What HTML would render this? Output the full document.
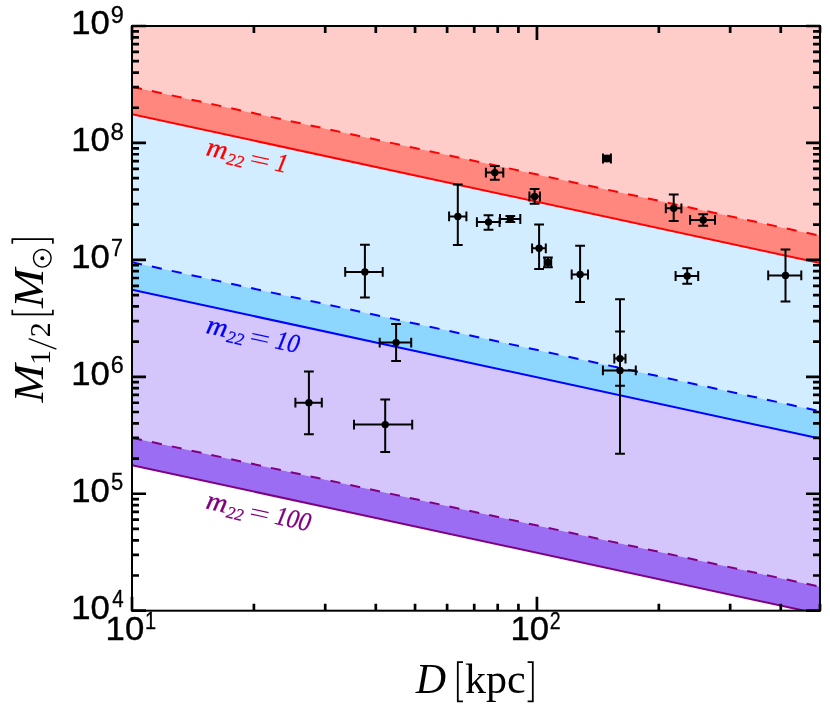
<!DOCTYPE html>
<html><head><meta charset="utf-8"><title>chart</title>
<style>html,body{margin:0;padding:0;background:#fff;}svg{display:block;will-change:transform;}text{font-family:"Liberation Sans",sans-serif;}.ser{font-family:"Liberation Serif",serif;}</style></head><body>
<svg width="830" height="715" viewBox="0 0 830 715">
<rect x="0" y="0" width="830" height="715" fill="#ffffff"/>
<defs><clipPath id="ax"><rect x="132.0" y="26.0" width="688.0" height="584.7"/></clipPath></defs>
<g clip-path="url(#ax)">
<polygon points="132.00,26.00 820.00,26.00 820.00,235.70 132.00,86.80" fill="#ffcdc9"/>
<polygon points="132.00,86.80 820.00,235.70 820.00,263.10 132.00,114.20" fill="#ff877e"/>
<polygon points="132.00,114.20 820.00,263.10 820.00,411.20 132.00,262.30" fill="#d2edff"/>
<polygon points="132.00,262.30 820.00,411.20 820.00,438.60 132.00,289.70" fill="#8dd6fd"/>
<polygon points="132.00,289.70 820.00,438.60 820.00,586.70 132.00,437.80" fill="#d4c6fa"/>
<polygon points="132.00,437.80 820.00,586.70 820.00,614.10 132.00,465.20" fill="#9b6df3"/>
<line x1="132.0" y1="114.2" x2="820.0" y2="263.1" stroke="#ff0000" stroke-width="2"/>
<line x1="132.0" y1="86.8" x2="820.0" y2="235.7" stroke="#ff0000" stroke-width="2" stroke-dasharray="10.15 10.15"/>
<line x1="132.0" y1="289.7" x2="820.0" y2="438.6" stroke="#0000ff" stroke-width="2"/>
<line x1="132.0" y1="262.3" x2="820.0" y2="411.20000000000005" stroke="#0000ff" stroke-width="2" stroke-dasharray="10.15 10.15"/>
<line x1="132.0" y1="465.2" x2="820.0" y2="614.1" stroke="#800080" stroke-width="2"/>
<line x1="132.0" y1="437.8" x2="820.0" y2="586.7" stroke="#800080" stroke-width="2" stroke-dasharray="10.15 10.15"/>
</g>
<g stroke="#000" stroke-width="2" fill="#000" clip-path="url(#ax)">
<path d="M345.2 271.9H382.7M364.9 244.7V297.6M345.2 267.0V276.79999999999995M382.7 267.0V276.79999999999995M360.0 244.7H369.79999999999995M360.0 297.6H369.79999999999995" fill="none"/>
<circle cx="364.9" cy="271.9" r="3.7" stroke="none"/>
<path d="M379.7 342.6H411.2M396.1 323.9V360.9M379.7 337.70000000000005V347.5M411.2 337.70000000000005V347.5M391.20000000000005 323.9H401.0M391.20000000000005 360.9H401.0" fill="none"/>
<circle cx="396.1" cy="342.6" r="3.7" stroke="none"/>
<path d="M295.4 402.7H321.8M308.9 371.5V434.2M295.4 397.8V407.59999999999997M321.8 397.8V407.59999999999997M304.0 371.5H313.79999999999995M304.0 434.2H313.79999999999995" fill="none"/>
<circle cx="308.9" cy="402.7" r="3.7" stroke="none"/>
<path d="M354.0 424.6H412.2M385.2 399.5V451.9M354.0 419.70000000000005V429.5M412.2 419.70000000000005V429.5M380.3 399.5H390.09999999999997M380.3 451.9H390.09999999999997" fill="none"/>
<circle cx="385.2" cy="424.6" r="3.7" stroke="none"/>
<path d="M449.1 216.4H466.4M457.8 184.5V244.9M449.1 211.5V221.3M466.4 211.5V221.3M452.90000000000003 184.5H462.7M452.90000000000003 244.9H462.7" fill="none"/>
<circle cx="457.8" cy="216.4" r="3.7" stroke="none"/>
<path d="M485.9 172.6H503.3M494.8 166.0V179.8M485.9 167.7V177.5M503.3 167.7V177.5M489.90000000000003 166.0H499.7M489.90000000000003 179.8H499.7" fill="none"/>
<circle cx="494.8" cy="172.6" r="3.7" stroke="none"/>
<path d="M476.9 222.1H499.6M488.5 215.2V229.7M476.9 217.2V227.0M499.6 217.2V227.0M483.6 215.2H493.4M483.6 229.7H493.4" fill="none"/>
<circle cx="488.5" cy="222.1" r="3.7" stroke="none"/>
<path d="M500.0 219.0H520.3M510.3 216.0V222.1M500.0 214.1V223.9M520.3 214.1V223.9M505.40000000000003 216.0H515.2M505.40000000000003 222.1H515.2" fill="none"/>
<circle cx="510.3" cy="219.0" r="3.7" stroke="none"/>
<path d="M529.4 196.5H539.9M534.6 189.1V203.8M529.4 191.6V201.4M539.9 191.6V201.4M529.7 189.1H539.5M529.7 203.8H539.5" fill="none"/>
<circle cx="534.6" cy="196.5" r="3.7" stroke="none"/>
<path d="M532.1 248.3H545.8M539.1 224.5V269.1M532.1 243.4V253.20000000000002M545.8 243.4V253.20000000000002M534.2 224.5H544.0M534.2 269.1H544.0" fill="none"/>
<circle cx="539.1" cy="248.3" r="3.7" stroke="none"/>
<path d="M544.6 262.4H551.2M547.9 257.5V267.2M544.6 257.5V267.29999999999995M551.2 257.5V267.29999999999995M543.0 257.5H552.8M543.0 267.2H552.8" fill="none"/>
<circle cx="547.9" cy="262.4" r="3.7" stroke="none"/>
<path d="M571.7 274.5H588.0M580.1 245.8V302.1M571.7 269.6V279.4M588.0 269.6V279.4M575.2 245.8H585.0M575.2 302.1H585.0" fill="none"/>
<circle cx="580.1" cy="274.5" r="3.7" stroke="none"/>
<path d="M603.0 158.5H610.9M606.9 155.8V161.3M603.0 153.6V163.4M610.9 153.6V163.4M602.0 155.8H611.8M602.0 161.3H611.8" fill="none"/>
<circle cx="606.9" cy="158.5" r="3.7" stroke="none"/>
<path d="M614.3 358.6H625.5M620.0 331.5V385.7M614.3 353.70000000000005V363.5M625.5 353.70000000000005V363.5M615.1 331.5H624.9M615.1 385.7H624.9" fill="none"/>
<circle cx="620.0" cy="358.6" r="3.7" stroke="none"/>
<path d="M602.9 370.4H635.8M620.0 299.3V453.7M602.9 365.5V375.29999999999995M635.8 365.5V375.29999999999995M615.1 299.3H624.9M615.1 453.7H624.9" fill="none"/>
<circle cx="620.0" cy="370.4" r="3.7" stroke="none"/>
<path d="M665.8 208.3H681.4M673.7 194.5V220.9M665.8 203.4V213.20000000000002M681.4 203.4V213.20000000000002M668.8000000000001 194.5H678.6M668.8000000000001 220.9H678.6" fill="none"/>
<circle cx="673.7" cy="208.3" r="3.7" stroke="none"/>
<path d="M690.1 219.9H715.0M703.2 214.3V225.7M690.1 215.0V224.8M715.0 215.0V224.8M698.3000000000001 214.3H708.1M698.3000000000001 225.7H708.1" fill="none"/>
<circle cx="703.2" cy="219.9" r="3.7" stroke="none"/>
<path d="M675.6 276.0H698.2M687.2 268.3V283.7M675.6 271.1V280.9M698.2 271.1V280.9M682.3000000000001 268.3H692.1M682.3000000000001 283.7H692.1" fill="none"/>
<circle cx="687.2" cy="276.0" r="3.7" stroke="none"/>
<path d="M768.2 275.4H801.3M785.5 249.4V301.4M768.2 270.5V280.29999999999995M801.3 270.5V280.29999999999995M780.6 249.4H790.4M780.6 301.4H790.4" fill="none"/>
<circle cx="785.5" cy="275.4" r="3.7" stroke="none"/>
</g>
<rect x="132.0" y="26.0" width="688.0" height="584.7" fill="none" stroke="#000" stroke-width="2"/>
<path d="M132.00 610.7V596.7M132.00 26.0V40.0M253.90 610.7V603.7M253.90 26.0V33.0M325.21 610.7V603.7M325.21 26.0V33.0M375.80 610.7V603.7M375.80 26.0V33.0M415.05 610.7V603.7M415.05 26.0V33.0M447.11 610.7V603.7M447.11 26.0V33.0M474.22 610.7V603.7M474.22 26.0V33.0M497.71 610.7V603.7M497.71 26.0V33.0M518.42 610.7V603.7M518.42 26.0V33.0M536.95 610.7V596.7M536.95 26.0V40.0M658.85 610.7V603.7M658.85 26.0V33.0M730.16 610.7V603.7M730.16 26.0V33.0M780.76 610.7V603.7M780.76 26.0V33.0M820.00 610.7V603.7M820.00 26.0V33.0M132.0 610.70H146.0M820.0 610.70H806.0M132.0 575.50H139.0M820.0 575.50H813.0M132.0 554.91H139.0M820.0 554.91H813.0M132.0 540.30H139.0M820.0 540.30H813.0M132.0 528.96H139.0M820.0 528.96H813.0M132.0 519.70H139.0M820.0 519.70H813.0M132.0 511.87H139.0M820.0 511.87H813.0M132.0 505.09H139.0M820.0 505.09H813.0M132.0 499.11H139.0M820.0 499.11H813.0M132.0 493.76H146.0M820.0 493.76H806.0M132.0 458.56H139.0M820.0 458.56H813.0M132.0 437.97H139.0M820.0 437.97H813.0M132.0 423.36H139.0M820.0 423.36H813.0M132.0 412.02H139.0M820.0 412.02H813.0M132.0 402.76H139.0M820.0 402.76H813.0M132.0 394.93H139.0M820.0 394.93H813.0M132.0 388.15H139.0M820.0 388.15H813.0M132.0 382.17H139.0M820.0 382.17H813.0M132.0 376.82H146.0M820.0 376.82H806.0M132.0 341.62H139.0M820.0 341.62H813.0M132.0 321.03H139.0M820.0 321.03H813.0M132.0 306.42H139.0M820.0 306.42H813.0M132.0 295.08H139.0M820.0 295.08H813.0M132.0 285.82H139.0M820.0 285.82H813.0M132.0 277.99H139.0M820.0 277.99H813.0M132.0 271.21H139.0M820.0 271.21H813.0M132.0 265.23H139.0M820.0 265.23H813.0M132.0 259.88H146.0M820.0 259.88H806.0M132.0 224.68H139.0M820.0 224.68H813.0M132.0 204.09H139.0M820.0 204.09H813.0M132.0 189.48H139.0M820.0 189.48H813.0M132.0 178.14H139.0M820.0 178.14H813.0M132.0 168.88H139.0M820.0 168.88H813.0M132.0 161.05H139.0M820.0 161.05H813.0M132.0 154.27H139.0M820.0 154.27H813.0M132.0 148.29H139.0M820.0 148.29H813.0M132.0 142.94H146.0M820.0 142.94H806.0M132.0 107.74H139.0M820.0 107.74H813.0M132.0 87.15H139.0M820.0 87.15H813.0M132.0 72.54H139.0M820.0 72.54H813.0M132.0 61.20H139.0M820.0 61.20H813.0M132.0 51.94H139.0M820.0 51.94H813.0M132.0 44.11H139.0M820.0 44.11H813.0M132.0 37.33H139.0M820.0 37.33H813.0M132.0 31.35H139.0M820.0 31.35H813.0M132.0 26.00H146.0M820.0 26.00H806.0" stroke="#000" stroke-width="2.7" fill="none"/>
<text x="71.2" y="618.8000000000001" font-size="33.5" textLength="38.6" lengthAdjust="spacingAndGlyphs" stroke="#000" stroke-width="0.4">10</text>
<text transform="translate(112.30,607.30) scale(0.838,0.96)" x="0" y="0" font-size="24.5" stroke="#000" stroke-width="0.3">4</text>
<text x="71.2" y="501.86000000000007" font-size="33.5" textLength="38.6" lengthAdjust="spacingAndGlyphs" stroke="#000" stroke-width="0.4">10</text>
<text transform="translate(110.90,490.36) scale(0.900,0.96)" x="0" y="0" font-size="24.5" stroke="#000" stroke-width="0.3">5</text>
<text x="71.2" y="384.9200000000001" font-size="33.5" textLength="38.6" lengthAdjust="spacingAndGlyphs" stroke="#000" stroke-width="0.4">10</text>
<text transform="translate(110.64,373.42) scale(0.958,0.96)" x="0" y="0" font-size="24.5" stroke="#000" stroke-width="0.3">6</text>
<text x="71.2" y="267.98" font-size="33.5" textLength="38.6" lengthAdjust="spacingAndGlyphs" stroke="#000" stroke-width="0.4">10</text>
<text transform="translate(110.92,256.48) scale(0.875,0.96)" x="0" y="0" font-size="24.5" stroke="#000" stroke-width="0.3">7</text>
<text x="71.2" y="151.04" font-size="33.5" textLength="38.6" lengthAdjust="spacingAndGlyphs" stroke="#000" stroke-width="0.4">10</text>
<text transform="translate(110.52,139.54) scale(0.983,0.96)" x="0" y="0" font-size="24.5" stroke="#000" stroke-width="0.3">8</text>
<text x="71.2" y="34.1" font-size="33.5" textLength="38.6" lengthAdjust="spacingAndGlyphs" stroke="#000" stroke-width="0.4">10</text>
<text transform="translate(110.64,22.60) scale(0.958,0.96)" x="0" y="0" font-size="24.5" stroke="#000" stroke-width="0.3">9</text>
<text x="105.6" y="640.4" font-size="33.5" textLength="38.6" lengthAdjust="spacingAndGlyphs" stroke="#000" stroke-width="0.4">10</text>
<text transform="translate(145.06,628.90) scale(0.818,0.96)" x="0" y="0" font-size="24.5" stroke="#000" stroke-width="0.3">1</text>
<text x="510.5" y="640.4" font-size="33.5" textLength="38.6" lengthAdjust="spacingAndGlyphs" stroke="#000" stroke-width="0.4">10</text>
<text transform="translate(549.80,628.90) scale(0.800,0.96)" x="0" y="0" font-size="24.5" stroke="#000" stroke-width="0.3">2</text>
<g id="xlabel">
<text class="ser" x="415.7" y="692.8" font-size="42" font-style="italic">D</text>
<text class="ser" x="465" y="692.8" font-size="42">kpc</text>
<path d="M463 662.1H457.8V701.3H463M527.6 662.1H532.8V701.3H527.6" stroke="#000" stroke-width="1.8" fill="none"/>
</g>
<g id="ylabel" transform="translate(42.6,403) rotate(-90)">
<text class="ser" x="0.4" y="0" font-size="42" font-style="italic" textLength="38.4" lengthAdjust="spacingAndGlyphs">M</text>
<text class="ser" x="38" y="6.9" font-size="30">1</text>
<text class="ser" x="65.7" y="6.9" font-size="30">2</text>
<path d="M53.8 13.8L64.3 -13.9" stroke="#000" stroke-width="1.4" fill="none"/>
<path d="M93.3 -30.3H88.7V10.3H93.3" stroke="#000" stroke-width="1.7" fill="none"/>
<text class="ser" x="95" y="0" font-size="42" font-style="italic" textLength="39.4" lengthAdjust="spacingAndGlyphs">M</text>
<circle cx="144.7" cy="-0.3" r="8.8" fill="none" stroke="#000" stroke-width="1.4"/><circle cx="144.7" cy="-0.3" r="2" fill="#000"/>
<path d="M159.3 -30.3H163.9V10.3H159.3" stroke="#000" stroke-width="1.7" fill="none"/>
</g>
<g transform="translate(206.3,155.2) rotate(12.5)" fill="#ff0000">
<text class="ser" x="-1" y="0" font-size="27" font-style="italic" fill="#ff0000" textLength="21" lengthAdjust="spacingAndGlyphs" stroke="#ff0000" stroke-width="0.3">m</text>
<text class="ser" x="21" y="4.4" font-size="17" font-style="italic" fill="#ff0000" stroke="#ff0000" stroke-width="0.25">22</text>
<path d="M45 -9.5H62M45 -4.3H62" stroke="#ff0000" stroke-width="1.2" fill="none"/>
<text class="ser" x="69.3" y="0" font-size="26.5" font-style="italic" fill="#ff0000" textLength="12" lengthAdjust="spacingAndGlyphs" stroke="#ff0000" stroke-width="0.3">1</text>
</g>
<g transform="translate(206.3,333.0) rotate(12.5)" fill="#0000ff">
<text class="ser" x="-1" y="0" font-size="27" font-style="italic" fill="#0000ff" textLength="21" lengthAdjust="spacingAndGlyphs" stroke="#0000ff" stroke-width="0.3">m</text>
<text class="ser" x="21" y="4.4" font-size="17" font-style="italic" fill="#0000ff" stroke="#0000ff" stroke-width="0.25">22</text>
<path d="M45 -9.5H62M45 -4.3H62" stroke="#0000ff" stroke-width="1.2" fill="none"/>
<text class="ser" x="69.3" y="0" font-size="26.5" font-style="italic" fill="#0000ff" textLength="24" lengthAdjust="spacingAndGlyphs" stroke="#0000ff" stroke-width="0.3">10</text>
</g>
<g transform="translate(206.0,508.5) rotate(12.5)" fill="#800080">
<text class="ser" x="-1" y="0" font-size="27" font-style="italic" fill="#800080" textLength="21" lengthAdjust="spacingAndGlyphs" stroke="#800080" stroke-width="0.3">m</text>
<text class="ser" x="21" y="4.4" font-size="17" font-style="italic" fill="#800080" stroke="#800080" stroke-width="0.25">22</text>
<path d="M45 -9.5H62M45 -4.3H62" stroke="#800080" stroke-width="1.2" fill="none"/>
<text class="ser" x="69.3" y="0" font-size="26.5" font-style="italic" fill="#800080" textLength="36" lengthAdjust="spacingAndGlyphs" stroke="#800080" stroke-width="0.3">100</text>
</g>
</svg></body></html>
